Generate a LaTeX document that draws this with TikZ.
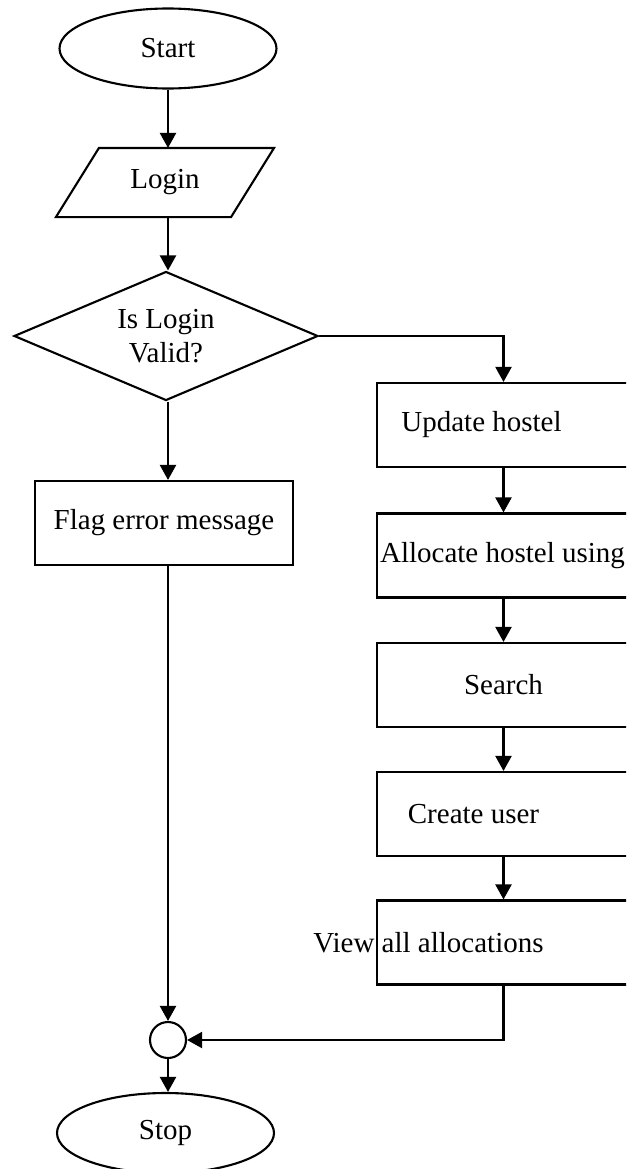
\documentclass[tikz,border=0pt]{standalone}
\usepackage{fontspec}
\setmainfont{Liberation Serif}
\usetikzlibrary{shapes.geometric,arrows.meta,calc}

\begin{document}
\begin{tikzpicture}[line width=1.2pt, >={Triangle[width=0.32cm,length=0.3cm]},
		every node/.style={font=\fontsize{16.5}{19}\selectfont},
		term/.style={draw, ellipse, minimum width=4.34cm, minimum height=1.6cm, inner sep=0pt},
		iobox/.style={minimum width=4.32cm, minimum height=1.34cm, inner sep=0pt},
		decision/.style={draw, diamond, aspect=2.36, minimum width=6.08cm, minimum height=2.58cm, inner sep=0pt, align=center},
		process/.style={draw, rectangle, minimum width=5.16cm, minimum height=1.68cm},
		rbox/.style={draw, rectangle, minimum width=5.06cm, minimum height=1.68cm},
		joint/.style={draw, circle, minimum size=0.72cm, inner sep=0pt}]
	\useasboundingbox (0,0) rectangle (12.52,-23.38);
	\clip (0,0) rectangle (12.52,-23.38);
	
	% linke Spalte
	\node[term] (start) at (3.36,-0.97) {Start};
	\node[iobox] (login) at (3.30,-3.65) {Login};
	\draw (login.south west) -- ($(login.north west)+(0.86,0)$) -- (login.north east) -- ($(login.south east)-(0.86,0)$) -- cycle;
	\node[decision] (valid) at (3.32,-6.72) {Is Login\\Valid?};
	\node[process] (flag) at (3.28,-10.46) {Flag error message};
	
	% rechte Spalte (Kaesten rechts abgeschnitten)
	\node[rbox, label={[xshift=-0.44cm]center:Update hostel}] (update) at (10.07,-8.50) {};
	\node[rbox, label={[xshift=-0.02cm]center:Allocate hostel using}] (alloc) at (10.07,-11.11) {};
	\node[rbox] (search) at (10.07,-13.70) {Search};
	\node[rbox, label={[xshift=-0.60cm]center:Create user}] (create) at (10.07,-16.28) {};
	\node[rbox, label={[xshift=-1.50cm]center:View all allocations}] (view) at (10.07,-18.85) {};
	
	% Zusammenfuehrung und Ende
	\node[joint] (join) at (3.36,-20.80) {};
	\node[term] (stop) at (3.31,-22.66) {Stop};
	
	% Pfeile
	\draw[->] (start.south) -- (start.south |- login.north);
	\draw[->] (login.south -| start.south) -- (valid.north -| start.south);
	\draw[->] (valid.south -| start.south) -- (flag.north -| start.south);
	\draw[->] (flag.south -| join.north) -- (join.north);
	\draw[->] (valid.east) -| (update.north);
	\draw[->] (update) -- (alloc);
	\draw[->] (alloc) -- (search);
	\draw[->] (search) -- (create);
	\draw[->] (create) -- (view);
	\draw[->] (view.south) |- (join.east);
	\draw[->] (join.south) -- (join.south |- stop.north);
\end{tikzpicture}
\end{document}
